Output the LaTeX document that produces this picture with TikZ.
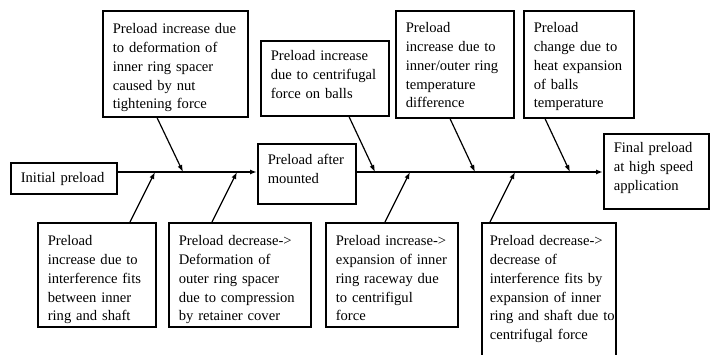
\documentclass[tikz,border=0pt]{standalone}
\usepackage{fontspec}
\setmainfont{Liberation Serif}
\usetikzlibrary{arrows.meta,calc}
\definecolor{inkblack}{HTML}{000000}
\tikzset{
  box/.style   = {draw=inkblack, line width=1.6pt, anchor=north west, align=left,
                  inner xsep=0pt, inner ysep=0pt, text height=22pt,
                  font=\fontsize{14.6}{18.8}\selectfont,
                  execute at begin node={\leftskip=10pt}},
  arr/.style   = {-{Latex[length=7pt,width=5pt]}, line width=1.2pt, draw=inkblack},
  spine/.style = {arr, line width=1.5pt},
}

\begin{document}
\begin{tikzpicture}[x=1pt, y=-1pt]
  \useasboundingbox (0,0) rectangle (713,355);
  \clip (0,0) rectangle (713,355);

  % --- main line: initial -> mounted -> final ---
  \node[box, text width=106pt, text height=20pt, text depth=11pt] (init) at (10,162) {Initial preload};
  \node[box, text width=98pt, text height=21pt, text depth=39pt] (mounted) at (257,143) {Preload after\\mounted};
  \node[box, text width=105pt, text height=19pt, text depth=56pt] (final) at (603,133) {Final preload\\at high speed\\application};

  % --- causes above the line ---
  \node[box, text width=145pt, text height=23pt, text depth=83pt] (nutforce) at (102,10)
    {Preload increase due\\to deformation of\\inner ring spacer\\caused by nut\\tightening force};
  \node[box, text width=128pt, text height=20pt, text depth=55pt] (centball) at (260,40)
    {Preload increase\\due to centrifugal\\force on balls};
  \node[box, text width=118pt, text depth=85pt] (tempdiff) at (395,10)
    {Preload\\increase due to\\inner/outer ring\\temperature\\difference};
  \node[box, text width=110pt, text depth=85pt] (ballheat) at (523,10)
    {Preload\\change due to\\heat expansion\\of balls\\temperature};

  % --- causes below the line ---
  \node[box, text width=118pt, text height=23pt, text depth=81pt] (fitshaft) at (37,222)
    {Preload\\increase due to\\interference fits\\between inner\\ring and shaft};
  \node[box, text width=142pt, text height=23pt, text depth=81pt] (spacerout) at (168,222)
    {Preload decrease->\\Deformation of\\outer ring spacer\\due to compression\\by retainer cover};
  \node[box, text width=132pt, text height=23pt, text depth=81pt] (raceexp) at (325,222)
    {Preload increase->\\expansion of inner\\ring raceway due\\to centrifigul\\force};
  \node[box, text width=134pt, text height=23pt, text depth=150pt,
        execute at begin node={\leftskip=8pt}] (fitloss) at (481,222)
    {Preload decrease->\\decrease of\\interference fits by\\expansion of inner\\ring and shaft due to\\centrifugal force};

  % --- where each cause meets the line ---
  \coordinate (fitshaft-in)  at (155,172);
  \coordinate (nutforce-in)  at (183,172);
  \coordinate (spacerout-in) at (237,172);
  \coordinate (centball-in)  at (375,172);
  \coordinate (raceexp-in)   at (410,172);
  \coordinate (tempdiff-in)  at (475,172);
  \coordinate (fitloss-in)   at (515,172);
  \coordinate (ballheat-in)  at (570,172);

  \draw[spine] (init.east |- nutforce-in) -- (mounted.west |- nutforce-in);
  \draw[spine] (mounted.east |- nutforce-in) -- (final.west |- nutforce-in);

  \draw[arr] ([xshift=55pt]nutforce.south west) -- (nutforce-in);
  \draw[arr] ([xshift=89pt]centball.south west) -- (centball-in);
  \draw[arr] ([xshift=55pt]tempdiff.south west) -- (tempdiff-in);
  \draw[arr] ([xshift=22pt]ballheat.south west) -- (ballheat-in);

  \draw[arr] ([xshift=93pt]fitshaft.north west) -- (fitshaft-in);
  \draw[arr] ([xshift=44pt]spacerout.north west) -- (spacerout-in);
  \draw[arr] ([xshift=60pt]raceexp.north west) -- (raceexp-in);
  \draw[arr] ([xshift=9pt]fitloss.north west) -- (fitloss-in);
\end{tikzpicture}
\end{document}
